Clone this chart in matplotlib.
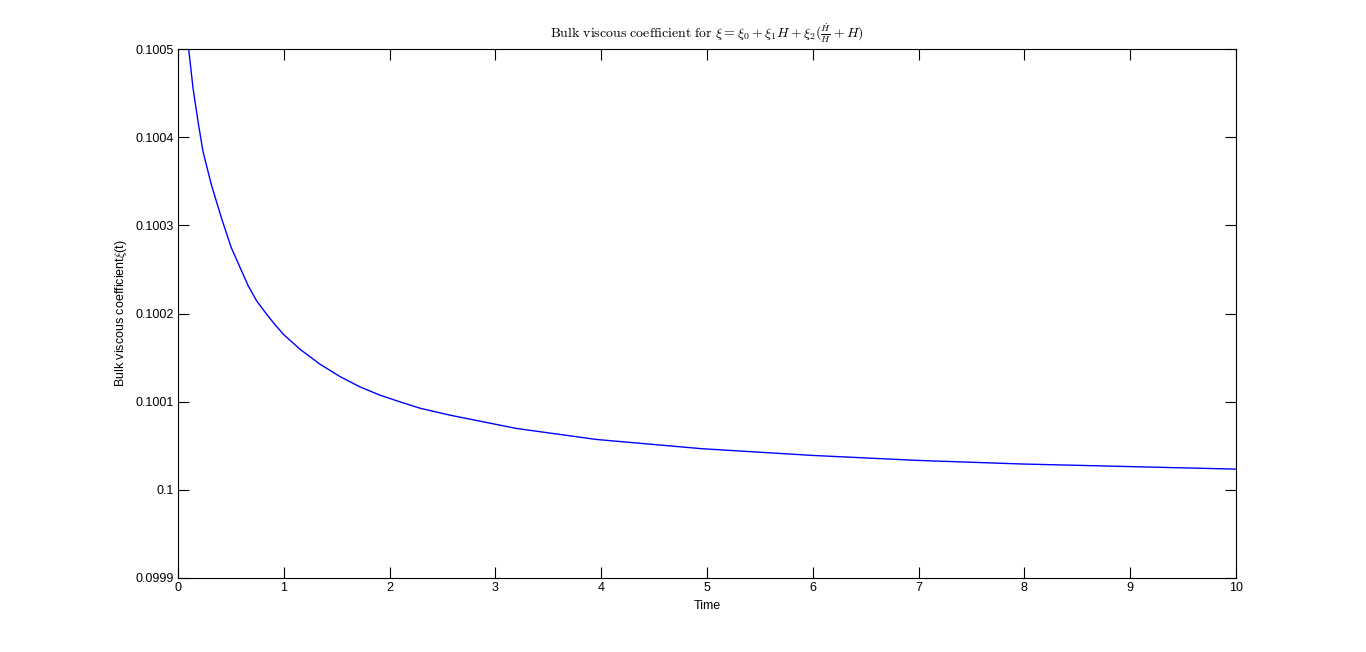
import numpy as np
import matplotlib
matplotlib.use("Agg")
import matplotlib.pyplot as plt

# values
t = [0.0, 0.101, 0.142, 0.189, 0.236, 0.315, 0.41, 0.504, 0.602, 0.665,
     0.744, 0.822, 0.901, 0.996, 1.090, 1.153, 1.342, 1.531, 1.720, 1.909,
     2.098, 2.287, 2.571, 2.854, 3.201, 3.95, 4.946, 5.988, 6.985, 7.98,
     9.02, 10.0]
xi = [0.10061, 0.1005, 0.1004558, 0.100418, 0.100384, 0.1003463, 0.1003086,
      0.1002746, 0.1002481, 0.1002311, 0.1002142, 0.1002017, 0.1001897,
      0.1001764, 0.1001663, 0.1001595, 0.1001425, 0.1001285, 0.1001168,
      0.1001074, 0.1000998, 0.1000926, 0.1000847, 0.1000779, 0.1000696,
      0.1000572, 0.1000467, 0.1000391, 0.1000334, 0.1000293, 0.1000263,
      0.1000235]
yticks = [0.0999, 0.1, 0.1001, 0.1002, 0.1003, 0.1004, 0.1005]
yticklabels = ["0.0999", "0.1", "0.1001", "0.1002", "0.1003", "0.1004", "0.1005"]

plt.rcParams['font.family'] = ['Liberation Sans', 'DejaVu Sans']
plt.rcParams['mathtext.fontset'] = 'cm'

fig = plt.figure(figsize=(13.66, 6.52), dpi=100)
ax = fig.add_axes([0.1303, 0.1135, 0.7745, 0.8113])

ax.plot(t, xi, color='#0000ff', linewidth=1.0)
ax.set_xlim(0, 10)
ax.set_ylim(0.0999, 0.1005)
ax.set_xticks(range(0, 11))
ax.set_yticks(yticks)
ax.set_yticklabels(yticklabels)
ax.tick_params(direction='in', length=7.6, width=0.8, top=True, right=True,
               labelsize=9, pad=3)
for s in ax.spines.values():
    s.set_linewidth(0.8)

ax.set_xlabel("Time", fontsize=9, labelpad=4)
ax.set_ylabel(r"Bulk viscous coefficient$\xi$(t)", fontsize=9, labelpad=5)
ax.set_title(r"$\mathrm{Bulk\ viscous\ coefficient\ for\ }\xi = \xi_0 + \xi_1 H + \xi_2(\frac{\dot{H}}{H} + H)$",
             fontsize=10, pad=8)

fig.savefig("out.png", dpi=100)
